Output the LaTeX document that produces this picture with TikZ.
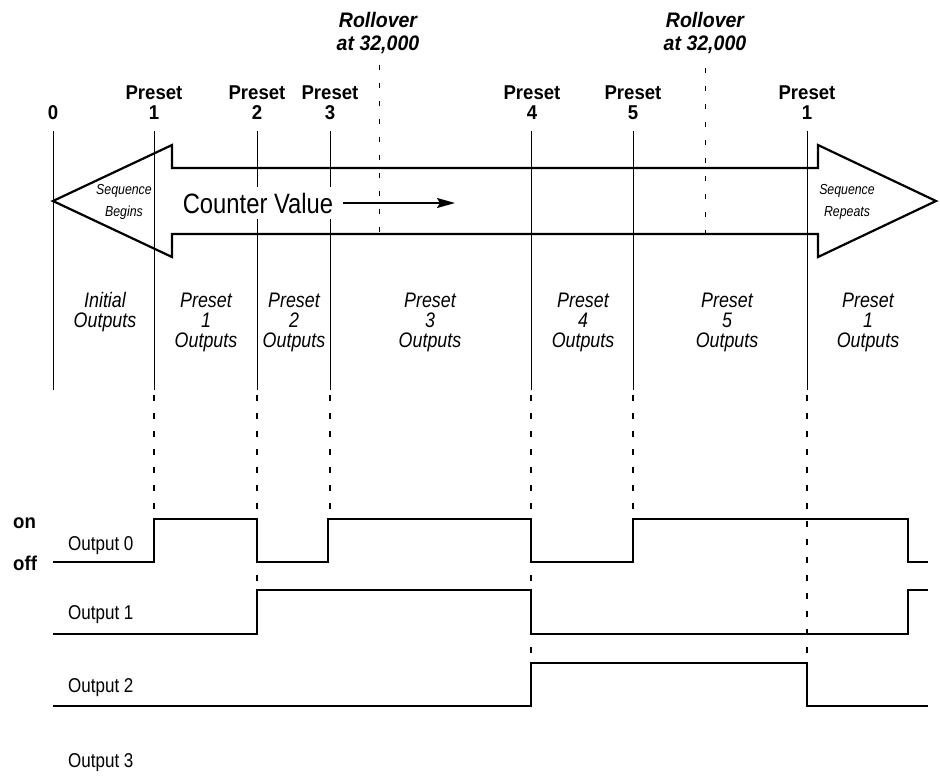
\documentclass[tikz,border=0pt]{standalone}
\usepackage{fontspec}
\setmainfont{Liberation Sans}[FakeStretch=0.85, BoldFeatures={FakeStretch=0.93}, BoldItalicFeatures={FakeStretch=0.93}]
\usetikzlibrary{arrows.meta}
\begin{document}
\begin{tikzpicture}[x=1pt,y=-1pt,
  lab/.style={font=\bfseries\fontsize{20}{20}\selectfont, align=center, inner sep=0},
  roll/.style={font=\bfseries\itshape\fontsize{21}{23}\selectfont, align=center, inner sep=0},
  seq/.style={font=\itshape\fontsize{14.5}{22}\selectfont, align=center, inner sep=0},
  outl/.style={font=\itshape\fontsize{21}{20}\selectfont, align=center, inner sep=0},
  sig/.style={font=\fontsize{20}{20}\selectfont, anchor=base west, inner sep=0},
  onoff/.style={font=\bfseries\fontsize{20}{20}\selectfont, anchor=base west, inner sep=0},
  vline/.style={line width=1pt},
  dline/.style={line width=1.7pt, dash pattern=on 6pt off 12pt},
  rline/.style={line width=1pt, dash pattern=on 5pt off 13pt},
  wave/.style={line width=1.3pt},
  bigarrow/.style={line width=2.2pt, line join=miter}
]
\useasboundingbox (0,0) rectangle (940,777);

% solid vertical lines
\foreach \x in {53,154,257,330,531,633,807}{
  \draw[vline] (\x,131) -- (\x,390);
}
% dashed continuation lines
\draw[dline] (154,395) -- (154,519);
\draw[dline] (257,395) -- (257,590);
\draw[dline] (330,395) -- (330,519);
\draw[dline] (531,395) -- (531,663);
\draw[dline] (633,395) -- (633,519);
\draw[dline] (807,395) -- (807,663);

% rollover lines
\draw[rline] (379,65) -- (379,238);
\draw[rline] (705,68) -- (705,238);

% big double arrow
\draw[bigarrow] (53,201) -- (172,145) -- (172,168) -- (818,168) -- (818,145)
  -- (936,201) -- (818,257) -- (818,234) -- (172,234) -- (172,257) -- cycle;

% top labels
\node[lab] (z0) at (53,113) {0};
\node[lab] (p1) at (154,103) {Preset\\1};
\node[lab] (p2) at (257,103) {Preset\\2};
\node[lab] (p3) at (330,103) {Preset\\3};
\node[lab] (p4) at (532,103) {Preset\\4};
\node[lab] (p5) at (633,103) {Preset\\5};
\node[lab] (p1b) at (807,103) {Preset\\1};
\node[roll] (r1) at (378,33) {Rollover\\at 32,000};
\node[roll] (r2) at (705,33) {Rollover\\at 32,000};

% arrow texts
\node[seq] (sb) at (124,202) {Sequence\\Begins};
\node[seq] (sr) at (847,202) {Sequence\\Repeats};
\node[fill=white, font=\fontsize{28}{28}\selectfont, text height=20pt, text depth=0pt,
      inner xsep=1pt, inner ysep=6pt] (cv) at (258,203) {Counter Value};
\coordinate (cvend) at (455,203);
\draw[line width=1.5pt, -{Stealth[length=18pt,width=10pt,inset=3pt]}, shorten <=9pt] (cv.east) -- (cvend);

% region labels
\node[outl] (o0) at (105,312) {Initial\\Outputs};
\node[outl] (o1) at (206,322) {Preset\\1\\Outputs};
\node[outl] (o2) at (294,322) {Preset\\2\\Outputs};
\node[outl] (o3) at (430,322) {Preset\\3\\Outputs};
\node[outl] (o4) at (583,322) {Preset\\4\\Outputs};
\node[outl] (o5) at (727,322) {Preset\\5\\Outputs};
\node[outl] (o6) at (868,322) {Preset\\1\\Outputs};

% on/off
\node[onoff] (on) at (13,528) {on};
\node[onoff] (off) at (13,570) {off};

% output labels
\node[sig] (s0) at (68,550) {Output 0};
\node[sig] (s1) at (68,619) {Output 1};
\node[sig] (s2) at (68,692) {Output 2};
\node[sig] (s3) at (68,767) {Output 3};

% waveforms
\draw[wave] (53,562) -- (154,562) -- (154,519) -- (257,519) -- (257,562) -- (328,562)
  -- (328,519) -- (531,519) -- (531,562) -- (633,562) -- (633,519) -- (908,519)
  -- (908,562) -- (928,562);
\draw[wave] (53,634) -- (257,634) -- (257,590) -- (531,590) -- (531,634) -- (908,634)
  -- (908,590) -- (928,590);
\draw[wave] (53,706) -- (531,706) -- (531,663) -- (807,663) -- (807,706) -- (928,706);
\end{tikzpicture}
\end{document}
